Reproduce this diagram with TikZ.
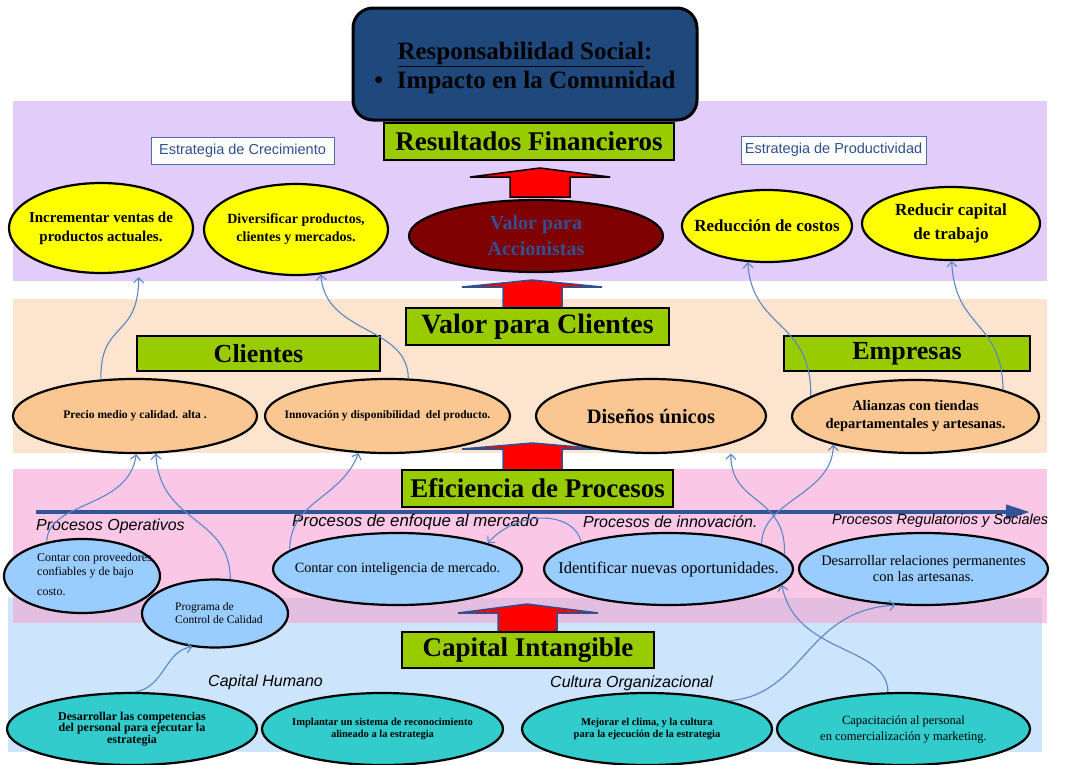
\documentclass[tikz,border=0pt]{standalone}
\usepackage{fontspec}
\setmainfont{Liberation Serif}
\setsansfont{Liberation Sans}
\usetikzlibrary{shapes.geometric,arrows.meta}

\definecolor{bandPurple}{HTML}{E2CCFA}
\definecolor{bandPeach}{HTML}{FDE4CE}
\definecolor{bandPink}{HTML}{FAC8E6}
\definecolor{bandMauve}{HTML}{E3BEE1}
\definecolor{bandBlue}{HTML}{CCE4FC}
\definecolor{titleGreen}{HTML}{99CC00}
\definecolor{navyBox}{HTML}{1F497D}
\definecolor{ovYellow}{HTML}{FFFF00}
\definecolor{ovPeach}{HTML}{FAC792}
\definecolor{ovBlue}{HTML}{99CCFF}
\definecolor{ovTeal}{HTML}{33CCCC}
\definecolor{ovMaroon}{HTML}{7F0000}
\definecolor{linkBlue}{HTML}{5A87C5}
\definecolor{axisBlue}{HTML}{2F5597}
\definecolor{stratText}{HTML}{2D4F8E}
\definecolor{stratEdge}{HTML}{4A6FA5}
\definecolor{arrowEdge}{HTML}{2F528F}
\definecolor{accText}{HTML}{34508F}

\newcommand\fsz[2]{\fontsize{#1}{#2}\selectfont}

\begin{document}
\begin{tikzpicture}[x=1pt,y=-1pt,
  titlebox/.style={draw=black,line width=1.2pt,fill=titleGreen,inner sep=0pt,
    font=\bfseries\fsz{27}{30}},
  oval/.style={ellipse,draw=black,line width=2.2pt,inner sep=0pt},
  ovtext/.style={align=center,inner sep=0pt},
  strat/.style={draw=stratEdge,line width=1pt,fill=white,inner sep=0pt,
    font=\sffamily\fsz{14.5}{17},text=stratText},
  lane/.style={anchor=west,inner sep=0pt,font=\sffamily\itshape\fsz{16}{19}},
  link/.style={draw=linkBlue,line width=1.1pt,
    -{Straight Barb[length=5pt,width=10pt,line width=1.1pt]}},
  blockarrow/.style={fill=red,line width=1.5pt,line join=miter},
]
\useasboundingbox (0,0) rectangle (1065,764);

% background bands
\fill[bandPurple] (13,101) rectangle (1047,281);
\fill[bandPeach]  (13,299) rectangle (1047,453);
\fill[bandBlue]   (8,598) rectangle (1042,752);
\fill[bandPink]   (13,469) rectangle (1047,598);
\fill[bandMauve]  (13,598) rectangle (1042,623);
\fill[bandPink]   (1042,598) rectangle (1047,623);

% upward block arrows
\draw[blockarrow,draw=black] (510,197) -- (510,177) -- (470,177) -- (540,168)
  -- (610,177) -- (570,177) -- (570,197) -- cycle;
\draw[blockarrow,draw=arrowEdge] (503,307) -- (503,287) -- (462,287) -- (532,280)
  -- (602,287) -- (562,287) -- (562,307) -- cycle;
\draw[blockarrow,draw=arrowEdge] (503,470) -- (503,449) -- (462,449) -- (532,443)
  -- (602,449) -- (562,449) -- (562,470) -- cycle;
\draw[blockarrow,draw=arrowEdge] (498,632) -- (498,613) -- (458,613) -- (527,604)
  -- (598,613) -- (557,613) -- (557,632) -- cycle;

% top box
\node[draw=black,line width=3pt,fill=navyBox,rounded corners=20pt,
  minimum width=344pt,minimum height=112pt] (rsocial) at (525,64) {};
\node[ovtext,font=\bfseries\fsz{25}{29}] (rsocialT) at (525,68)
  {\underline{Responsabilidad Social}:\\ \textbullet\hspace{0.55em}Impacto en la Comunidad};

% strategy labels
\node[strat,minimum width=183pt,minimum height=27pt] (stratC) at (242.5,150.5) {Estrategia de Crecimiento};
\node[strat,minimum width=185pt,minimum height=28pt] (stratP) at (833.5,150) {Estrategia de Productividad};

% financial level
\node[oval,fill=ovYellow,minimum width=184pt,minimum height=90pt] (incr) at (101,228) {};
\node[ovtext,font=\bfseries\fsz{15}{19}] (incrT) at (incr) {Incrementar ventas de\\productos actuales.};
\node[oval,fill=ovYellow,minimum width=184pt,minimum height=91pt] (divers) at (296,229.5) {};
\node[ovtext,font=\bfseries\fsz{14}{18}] (diversT) at (divers) {Diversificar productos,\\clientes y mercados.};
\node[oval,fill=ovMaroon,minimum width=254pt,minimum height=72pt] (accion) at (536,236) {};
\node[ovtext,font=\bfseries\fsz{20}{26},text=accText] (accionT) at (accion) {Valor para\\Accionistas};
\node[oval,fill=ovYellow,minimum width=170pt,minimum height=72pt] (reduc) at (767,226) {};
\node[ovtext,font=\bfseries\fsz{17}{21}] (reducT) at (reduc) {Reducción de costos};
\node[oval,fill=ovYellow,minimum width=178pt,minimum height=73pt] (redcap) at (951,223.5) {};
\node[ovtext,font=\bfseries\fsz{17}{24}] (redcapT) at (redcap) {Reducir capital\\de trabajo};

% customer level
\node[oval,fill=ovPeach,minimum width=244pt,minimum height=74pt] (precio) at (135,416) {};
\node[ovtext,font=\bfseries\fsz{11.6}{13}] (precioT) at (precio) {Precio medio y calidad. alta .};
\node[oval,fill=ovPeach,minimum width=245pt,minimum height=74pt] (innov) at (387.5,416) {};
\node[ovtext,font=\bfseries\fsz{11.4}{13}] (innovT) at (innov) {Innovación y disponibilidad\ \ del producto.};
\node[oval,fill=ovPeach,minimum width=230pt,minimum height=74pt] (disenos) at (651,416) {};
\node[ovtext,font=\bfseries\fsz{20.5}{24}] (disenosT) at (disenos) {Diseños únicos};
\node[oval,fill=ovPeach,minimum width=247pt,minimum height=73pt] (alianz) at (915.5,416.5) {};
\node[ovtext,font=\bfseries\fsz{14.5}{18}] (alianzT) at (alianz) {Alianzas con tiendas\\departamentales y artesanas.};

% process level
\node[oval,fill=ovBlue,minimum width=156pt,minimum height=74pt] (prov) at (82,576) {};
\node[anchor=north west,inner sep=0pt,align=left,font=\fsz{12}{14}] (provT) at (37,553)
  {Contar con proveedores\\confiables y de bajo\\[6pt]costo.};
\node[oval,fill=ovBlue,minimum width=146pt,minimum height=68pt] (prog) at (215,613.5) {};
\node[anchor=west,inner sep=0pt,align=left,font=\fsz{11.5}{12.5}] (progT) at (175,613)
  {Programa de\\Control de Calidad};
\node[oval,fill=ovBlue,minimum width=249pt,minimum height=72pt] (intel) at (397.5,569) {};
\node[ovtext,font=\fsz{14.2}{17}] (intelT) at (intel) {Contar con inteligencia de mercado.};
\node[oval,fill=ovBlue,minimum width=249pt,minimum height=72pt] (ident) at (668.5,569) {};
\node[ovtext,font=\fsz{16.5}{18}] (identT) at (ident) {Identificar nuevas oportunidades.};
\node[oval,fill=ovBlue,minimum width=249pt,minimum height=72pt] (desrel) at (923.5,569) {};
\node[ovtext,font=\fsz{14.5}{16}] (desrelT) at (desrel) {Desarrollar relaciones permanentes\\con las artesanas.};

% intangible capital level
\node[oval,fill=ovTeal,minimum width=250pt,minimum height=72pt] (comp) at (132,729) {};
\node[ovtext,font=\bfseries\fsz{12}{11.5}] (compT) at (comp) {Desarrollar las competencias\\del personal para ejecutar la\\estrategia};
\node[oval,fill=ovTeal,minimum width=241pt,minimum height=72pt] (impl) at (382.5,729) {};
\node[ovtext,font=\bfseries\fsz{10.5}{12}] (implT) at (impl) {Implantar un sistema de reconocimiento\\alineado a la estrategia};
\node[oval,fill=ovTeal,minimum width=250pt,minimum height=72pt] (mejor) at (647,729) {};
\node[ovtext,font=\bfseries\fsz{10.5}{12}] (mejorT) at (mejor) {Mejorar el clima, y la cultura\\para la ejecución de la estrategia};
\node[oval,fill=ovTeal,minimum width=253pt,minimum height=72pt] (capac) at (903.5,729) {};
\node[ovtext,font=\fsz{12.5}{16}] (capacT) at (capac) {Capacitación al personal\\en comercialización y marketing.};

% level titles
\node[titlebox,minimum width=290pt,minimum height=37pt] (resfin) at (529,141.5) {Resultados Financieros};
\node[titlebox,minimum width=263pt,minimum height=37pt,font=\bfseries\fsz{28}{30}] (valcli) at (537.5,326.5) {Valor para Clientes};
\node[titlebox,minimum width=243pt,minimum height=35pt,font=\bfseries\fsz{26}{30}] (clientes) at (258.5,353.5) {Clientes};
\node[titlebox,minimum width=246pt,minimum height=35pt,font=\bfseries\fsz{26}{30}] (empresas) at (907,353.5) {Empresas};
\node[titlebox,minimum width=271pt,minimum height=37pt] (eficiencia) at (537.5,488.5) {Eficiencia de Procesos};
\node[titlebox,minimum width=252pt,minimum height=36pt] (capint) at (528,650) {Capital Intangible};

% process axis
\coordinate (axisL) at (36,512);
\coordinate (axisR) at (1030,512);
\draw[axisBlue,line width=4pt,-{Triangle[length=24pt,width=14pt]}] (axisL) -- (axisR);

% lane captions
\node[lane] (lopera) at (36,526) {Procesos Operativos};
\node[lane,font=\sffamily\itshape\fsz{16.8}{19}] (lmerc) at (292,522) {Procesos de enfoque al mercado};
\node[lane] (linnov) at (583,522) {Procesos de innovación.};
\node[lane,font=\sffamily\itshape\fsz{14.5}{17}] (lregul) at (832,521) {Procesos Regulatorios y Sociales};
\node[lane] (lhum) at (208,682) {Capital Humano};
\node[lane] (lcult) at (550,683) {Cultura Organizacional};

% cause-effect links
\draw[link,shorten >=7pt] (precio.133) .. controls (100,320) and (138,340) .. (incr.-48);
\draw[link] (innov.61) .. controls (408,325) and (325,335) .. (divers.-61);
\draw[link] (alianz.169) .. controls (812,320) and (752,330) .. (reduc.-118);
\draw[link] (alianz.17) .. controls (1002,320) and (955,330) .. (redcap.-89);
\draw[link] (prov.136) .. controls (48,500) and (128,510) .. (precio.-88);
\draw[link] (prog.66) .. controls (230,515) and (160,525) .. (precio.-61);
\draw[link] (intel.170) .. controls (290,500) and (340,500) .. (innov.-128);
\draw[link] (ident.15) .. controls (762,500) and (832,495) .. (alianz.-161);
\draw[link,shorten >=10pt] (ident.7) .. controls (787,495) and (730,505) .. (disenos.-19);
\draw[link] (ident.163) .. controls (575,512) and (520,508) .. (intel.16);
\draw[link] (comp.85) .. controls (165,687) and (165,650) .. (prog.-124);
\draw[link] (mejor.19) .. controls (805,695) and (805,610) .. (desrel.-128);
\draw[link] (capac.113) .. controls (888,645) and (795,655) .. (ident.-8);
\end{tikzpicture}
\end{document}
